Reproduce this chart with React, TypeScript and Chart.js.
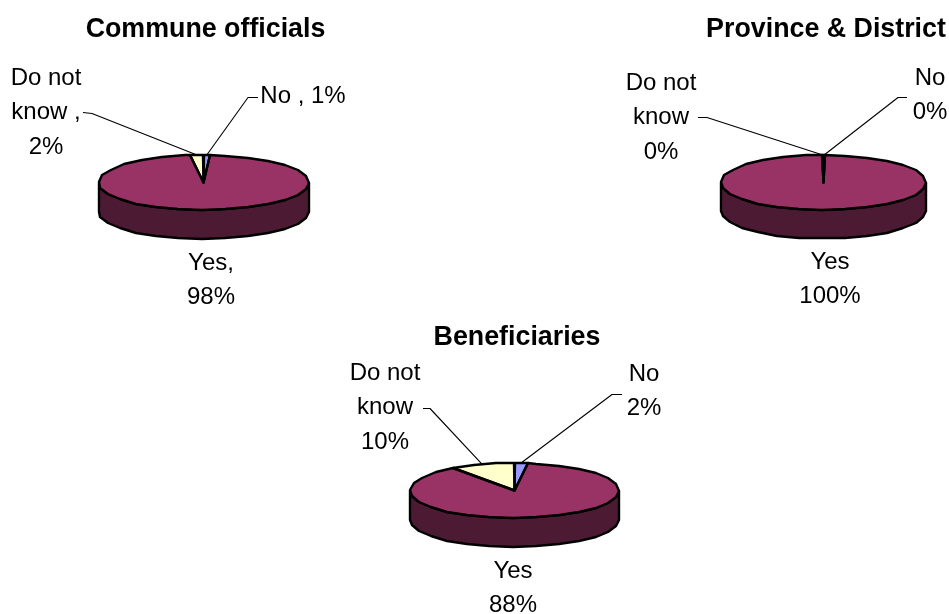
import React, { useEffect, useRef } from "react";
import { Chart, registerables } from "chart.js";

Chart.register(...registerables);

const categories = ["No", "Yes", "Do not know"];
const communeValues = [1, 98, 2];
const provinceValues = [0.2, 99.6, 0.2];
const beneficiaryValues = [2, 88, 10];
const sliceColors = ["#9999FF", "#993366", "#FFFFCC"];
const sideColors = ["#4D4D80", "#4D1A33", "#808066"];

const W = 949;
const H = 614;
const FONT = '"Liberation Sans", Arial, sans-serif';
const FACET = (13 * Math.PI) / 180;

type Label = { lines: string[]; x: number; y: number };
type Panel = {
  title: string; titleX: number; titleY: number;
  values: number[];
  cx: number; cy: number; rx: number; ry: number; depth: number;
  labels: Label[];
  leaders: (number[] | null)[];
};

const panels: Panel[] = [
  {
    title: "Commune officials", titleX: 205.5, titleY: 30,
    values: communeValues,
    cx: 203.5, cy: 182.5, rx: 105, ry: 27.5, depth: 29,
    labels: [
      { lines: ["No , 1%"], x: 303, y: 96 },
      { lines: ["Yes,", "98%"], x: 211, y: 263 },
      { lines: ["Do not", "know ,", "2%"], x: 46, y: 78 },
    ],
    leaders: [[258, 97.5, 248, 97.5], null, [83, 112.5, 92, 113.5]],
  },
  {
    title: "Province & District", titleX: 826, titleY: 30,
    values: provinceValues,
    cx: 823.5, cy: 182.5, rx: 102.5, ry: 27.5, depth: 28.5,
    labels: [
      { lines: ["No", "0%"], x: 930, y: 78 },
      { lines: ["Yes", "100%"], x: 830, y: 262 },
      { lines: ["Do not", "know", "0%"], x: 661, y: 83 },
    ],
    leaders: [[907, 97.5, 898, 97.5], null, [698, 117.5, 707, 117.5]],
  },
  {
    title: "Beneficiaries", titleX: 517, titleY: 338,
    values: beneficiaryValues,
    cx: 514.5, cy: 490.5, rx: 104.5, ry: 27.5, depth: 29,
    labels: [
      { lines: ["No", "2%"], x: 644, y: 374 },
      { lines: ["Yes", "88%"], x: 513, y: 571 },
      { lines: ["Do not", "know", "10%"], x: 385, y: 373 },
    ],
    leaders: [[622, 394.5, 612, 394.5], null, [423, 408.5, 430, 408.5]],
  },
];

// Walks an elliptical rim in short straight facets, snapped to whole pixels.
function rim(ctx: any, cx: number, cy: number, rx: number, ry: number, s: number, e: number) {
  const dir = e >= s ? 1 : -1;
  const pts = [s];
  const lo = Math.min(s, e);
  const hi = Math.max(s, e);
  const inner: number[] = [];
  for (let n = Math.ceil(lo / FACET); n * FACET < hi; n++) {
    if (n * FACET > lo) inner.push(n * FACET);
  }
  if (dir < 0) inner.reverse();
  pts.push(...inner, e);
  pts.forEach((t) => {
    ctx.lineTo(Math.round(cx + rx * Math.cos(t)), Math.round(cy + ry * Math.sin(t)));
  });
}

function pie3d(p: Panel) {
  const k = p.ry / p.rx;
  return {
    id: "pie3d",
    beforeDatasetsDraw(chart: any) {
      const ctx = chart.ctx;
      const arcs = chart.getDatasetMeta(0).data;
      ctx.save();
      ctx.lineJoin = "round";
      arcs.forEach((a: any, i: number) => {
        const s = Math.max(a.startAngle, 0);
        const e = Math.min(a.endAngle, Math.PI);
        if (e <= s) return;
        const r = a.outerRadius;
        ctx.beginPath();
        rim(ctx, a.x, a.y, r, r * k, s, e);
        rim(ctx, a.x, a.y + p.depth, r, r * k, e, s);
        ctx.closePath();
        ctx.fillStyle = sideColors[i];
        ctx.fill();
        ctx.strokeStyle = "#000";
        ctx.lineWidth = 2.4;
        ctx.stroke();
      });
      ctx.restore();
      ctx.save();
      const a0 = arcs[0];
      ctx.translate(a0.x, a0.y);
      ctx.scale(1, k);
      ctx.translate(-a0.x, -a0.y);
    },
    afterDatasetsDraw(chart: any) {
      const ctx = chart.ctx;
      ctx.restore();
      const arcs = chart.getDatasetMeta(0).data;
      ctx.save();
      ctx.lineJoin = "round";
      ctx.strokeStyle = "#000";
      ctx.lineWidth = 2.4;
      arcs.forEach((a: any) => {
        ctx.beginPath();
        ctx.moveTo(a.x, a.y);
        rim(ctx, a.x, a.y, a.outerRadius, a.outerRadius * k, a.startAngle, a.endAngle);
        ctx.closePath();
        ctx.stroke();
      });
      // leader lines run from each slice's rim to the label
      ctx.lineWidth = 1.1;
      p.leaders.forEach((l, i) => {
        if (!l) return;
        const a = arcs[i];
        const mid = (a.startAngle + a.endAngle) / 2;
        ctx.beginPath();
        ctx.moveTo(l[0], l[1]);
        ctx.lineTo(l[2], l[3]);
        ctx.lineTo(a.x + a.outerRadius * Math.cos(mid), a.y + a.outerRadius * k * Math.sin(mid));
        ctx.stroke();
      });
      // title and data labels
      ctx.fillStyle = "#000";
      ctx.textAlign = "center";
      ctx.textBaseline = "middle";
      ctx.font = `bold 26.8px ${FONT}`;
      ctx.fillText(p.title, p.titleX, p.titleY);
      ctx.font = `24px ${FONT}`;
      p.labels.forEach((lab) => {
        lab.lines.forEach((t, j) => ctx.fillText(t, lab.x, lab.y + j * 34.5));
      });
      ctx.restore();
    },
  };
}

function PieCanvas({ panel }: { panel: Panel }) {
  const ref = useRef<HTMLCanvasElement>(null);
  useEffect(() => {
    const r = panel.rx;
    const chart = new Chart(ref.current as HTMLCanvasElement, {
      type: "pie",
      data: {
        labels: categories,
        datasets: [{ data: panel.values, backgroundColor: sliceColors, borderWidth: 0 }],
      },
      options: {
        animation: false,
        responsive: false,
        layout: {
          padding: {
            left: panel.cx - r,
            right: W - panel.cx - r,
            top: panel.cy - r,
            bottom: H - panel.cy - r,
          },
        },
        plugins: { legend: { display: false }, title: { display: false }, tooltip: { enabled: false } },
      },
      plugins: [pie3d(panel)],
    } as any);
    return () => chart.destroy();
  }, [panel]);
  return (
    <canvas
      ref={ref}
      width={W}
      height={H}
      style={{ position: "absolute", left: 0, top: 0, width: W, height: H }}
    />
  );
}

export default function App() {
  return (
    <div style={{ position: "fixed", left: 0, top: 0, width: W, height: H, overflow: "hidden", background: "#fff" }}>
      {panels.map((p) => (
        <PieCanvas key={p.title} panel={p} />
      ))}
    </div>
  );
}
